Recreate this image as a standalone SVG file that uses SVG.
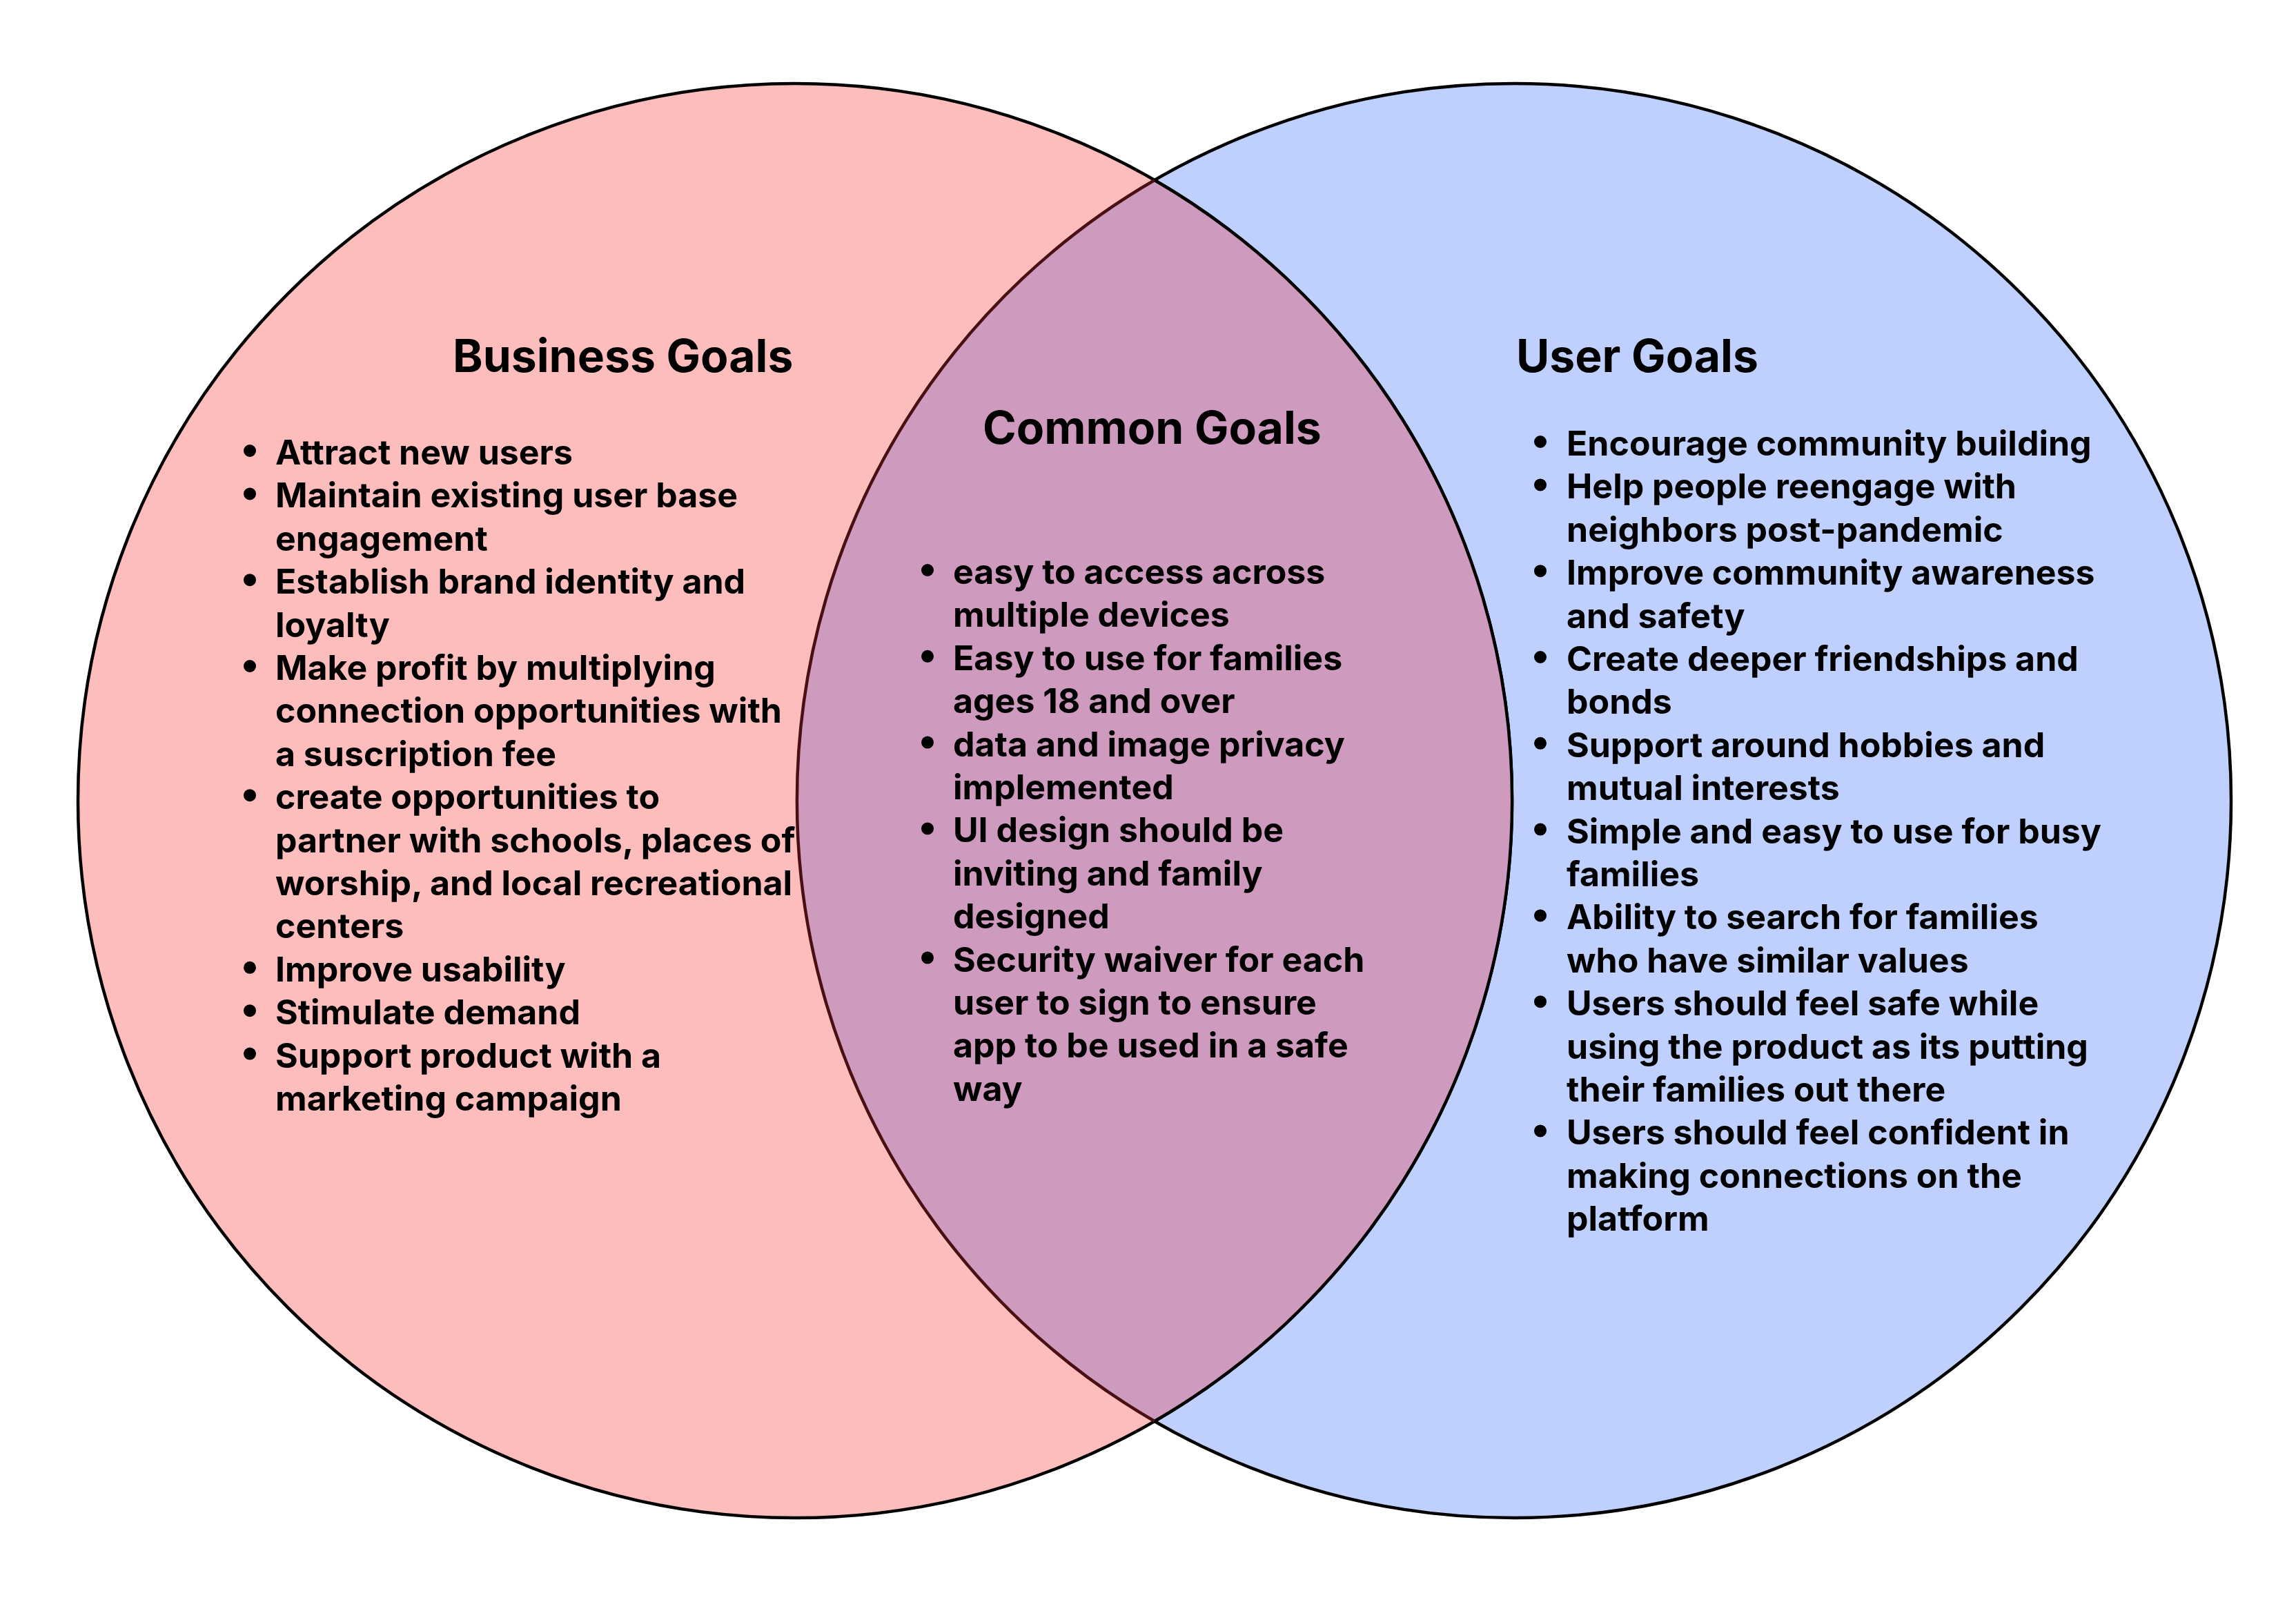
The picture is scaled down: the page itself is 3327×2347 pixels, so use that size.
<svg xmlns="http://www.w3.org/2000/svg" width="3327" height="2347" viewBox="0 0 3327 2347">
<style>
.t{font-family:Inter,"Liberation Sans",sans-serif;font-weight:700;fill:#000}
.h{font-size:66px}
.b{font-size:50px}
.d{fill:#000}
</style>
<rect width="3327" height="2347" fill="#fff"/>
<g id="user-circle">
<circle cx="2194" cy="1160" r="1039" fill="#BFD0FE" stroke="#000" stroke-width="4.5"/>
</g>
<g id="business-circle">
<circle cx="1152" cy="1160" r="1039" fill="#FEBDBD" stroke="#000" stroke-width="4.5"/>
</g>
<g id="common-overlap">
<path d="M1673,261 A1039,1039 0 0,1 1673,2059 A1039,1039 0 0,1 1673,261 Z" fill="#CE9ABE"/>
<path d="M1673,261 A1039,1039 0 0,1 1673,2059" fill="none" stroke="#000" stroke-width="4.5"/>
<path d="M1673,2059 A1039,1039 0 0,1 1673,261" fill="none" stroke="#4A0F12" stroke-width="4.5"/>
</g>
<g id="connectors"/>
<g id="business-goals">
<text class="t h" x="656" y="539">Business Goals</text>
<g class="d">
<circle cx="362" cy="653" r="9"/><circle cx="362" cy="715.4" r="9"/><circle cx="362" cy="840.2" r="9"/><circle cx="362" cy="965" r="9"/><circle cx="362" cy="1152.2" r="9"/><circle cx="362" cy="1401.8" r="9"/><circle cx="362" cy="1464.2" r="9"/><circle cx="362" cy="1526.6" r="9"/>
</g>
<text class="t b">
<tspan x="399" y="673">Attract new users</tspan>
<tspan x="399" y="735.4">Maintain existing user base</tspan>
<tspan x="399" y="797.8">engagement</tspan>
<tspan x="399" y="860.2">Establish brand identity and</tspan>
<tspan x="399" y="922.6">loyalty</tspan>
<tspan x="399" y="985">Make profit by multiplying</tspan>
<tspan x="399" y="1047.4">connection opportunities with</tspan>
<tspan x="399" y="1109.8">a suscription fee</tspan>
<tspan x="399" y="1172.2">create opportunities to</tspan>
<tspan x="399" y="1234.6">partner with schools, places of</tspan>
<tspan x="399" y="1297">worship, and local recreational</tspan>
<tspan x="399" y="1359.4">centers</tspan>
<tspan x="399" y="1421.8">Improve usability</tspan>
<tspan x="399" y="1484.2">Stimulate demand</tspan>
<tspan x="399" y="1546.6">Support product with a</tspan>
<tspan x="399" y="1609">marketing campaign</tspan>
</text>
</g>
<g id="common-goals">
<text class="t h" x="1424" y="643">Common Goals</text>
<g class="d">
<circle cx="1344" cy="826" r="9"/><circle cx="1344" cy="950.8" r="9"/><circle cx="1344" cy="1075.6" r="9"/><circle cx="1344" cy="1200.4" r="9"/><circle cx="1344" cy="1387.6" r="9"/>
</g>
<text class="t b">
<tspan x="1381" y="846">easy to access across</tspan>
<tspan x="1381" y="908.4">multiple devices</tspan>
<tspan x="1381" y="970.8">Easy to use for families</tspan>
<tspan x="1381" y="1033.2">ages 18 and over</tspan>
<tspan x="1381" y="1095.6">data and image privacy</tspan>
<tspan x="1381" y="1158">implemented</tspan>
<tspan x="1381" y="1220.4">UI design should be</tspan>
<tspan x="1381" y="1282.8">inviting and family</tspan>
<tspan x="1381" y="1345.2">designed</tspan>
<tspan x="1381" y="1407.6">Security waiver for each</tspan>
<tspan x="1381" y="1470">user to sign to ensure</tspan>
<tspan x="1381" y="1532.4">app to be used in a safe</tspan>
<tspan x="1381" y="1594.8">way</tspan>
</text>
</g>
<g id="user-goals">
<text class="t h" x="2197" y="539">User Goals</text>
<g class="d">
<circle cx="2232" cy="640" r="9"/><circle cx="2232" cy="702.4" r="9"/><circle cx="2232" cy="827.2" r="9"/><circle cx="2232" cy="952" r="9"/><circle cx="2232" cy="1076.8" r="9"/><circle cx="2232" cy="1201.6" r="9"/><circle cx="2232" cy="1326.4" r="9"/><circle cx="2232" cy="1451.2" r="9"/><circle cx="2232" cy="1638.4" r="9"/>
</g>
<text class="t b">
<tspan x="2270" y="660">Encourage community building</tspan>
<tspan x="2270" y="722.4">Help people reengage with</tspan>
<tspan x="2270" y="784.8">neighbors post-pandemic</tspan>
<tspan x="2270" y="847.2">Improve community awareness</tspan>
<tspan x="2270" y="909.6">and safety</tspan>
<tspan x="2270" y="972">Create deeper friendships and</tspan>
<tspan x="2270" y="1034.4">bonds</tspan>
<tspan x="2270" y="1096.8">Support around hobbies and</tspan>
<tspan x="2270" y="1159.2">mutual interests</tspan>
<tspan x="2270" y="1221.6">Simple and easy to use for busy</tspan>
<tspan x="2270" y="1284">families</tspan>
<tspan x="2270" y="1346.4">Ability to search for families</tspan>
<tspan x="2270" y="1408.8">who have similar values</tspan>
<tspan x="2270" y="1471.2">Users should feel safe while</tspan>
<tspan x="2270" y="1533.6">using the product as its putting</tspan>
<tspan x="2270" y="1596">their families out there</tspan>
<tspan x="2270" y="1658.4">Users should feel confident in</tspan>
<tspan x="2270" y="1720.8">making connections on the</tspan>
<tspan x="2270" y="1783.2">platform</tspan>
</text>
</g>
</svg>
